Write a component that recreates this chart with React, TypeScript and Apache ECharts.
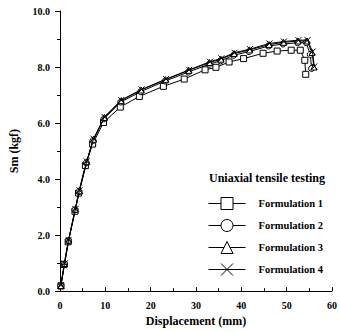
import React, { useEffect, useRef } from "react";
import * as echarts from "echarts";

// Displacement (mm) and Sm (kgf) for each formulation
const dispF1 = [0.2, 0.9, 1.8, 3.3, 4.1, 5.6, 7.2, 9.6, 13.3, 17.5, 22.8, 27.4, 32.0, 34.4, 37.3, 40.5, 44.8, 47.9, 51.0, 53.0, 54.0, 54.2];
const smF1 = [0.18, 0.95, 1.76, 2.85, 3.5, 4.48, 5.25, 6.02, 6.57, 6.95, 7.31, 7.57, 7.9, 7.99, 8.18, 8.3, 8.49, 8.57, 8.6, 8.6, 8.24, 7.74];

const dispF2 = [0.2, 1.0, 1.9, 3.3, 4.2, 5.8, 7.3, 9.7, 13.4, 17.8, 23.2, 28.3, 32.9, 35.4, 38.3, 41.7, 46.0, 49.2, 52.4, 54.3, 55.2, 55.5];
const smF2 = [0.2, 0.97, 1.8, 2.9, 3.55, 4.58, 5.38, 6.15, 6.75, 7.12, 7.5, 7.82, 8.1, 8.22, 8.42, 8.55, 8.75, 8.82, 8.87, 8.87, 8.45, 7.95];

const dispF3 = [0.2, 1.0, 1.9, 3.4, 4.3, 5.9, 7.4, 9.8, 13.5, 17.9, 23.3, 28.4, 33.0, 35.5, 38.4, 41.8, 46.1, 49.3, 52.5, 54.5, 55.6, 56.0];
const smF3 = [0.2, 0.98, 1.82, 2.92, 3.58, 4.62, 5.42, 6.2, 6.8, 7.18, 7.55, 7.88, 8.16, 8.28, 8.48, 8.61, 8.8, 8.88, 8.93, 8.93, 8.52, 8.0];

const dispF4 = [0.2, 1.0, 1.9, 3.4, 4.3, 5.9, 7.4, 9.8, 13.5, 18.0, 23.4, 28.5, 33.1, 35.6, 38.5, 41.9, 46.2, 49.4, 52.6, 54.6, 55.7, 56.1];
const smF4 = [0.21, 0.99, 1.83, 2.93, 3.6, 4.63, 5.44, 6.22, 6.82, 7.2, 7.57, 7.9, 8.19, 8.31, 8.51, 8.64, 8.84, 8.91, 8.96, 8.96, 8.55, 8.02];

const seriesNames = ["Formulation 1", "Formulation 2", "Formulation 3", "Formulation 4"];
const legendTitle = "Uniaxial tensile testing";

const FONT = "'Liberation Serif', 'Times New Roman', serif";
const CROSS = "path://M0,0L10,10M10,0L0,10";

function pairs(xs: number[], ys: number[]) {
  return xs.map((x, i) => [x, ys[i]]);
}

export default function App() {
  const ref = useRef<HTMLDivElement>(null);

  useEffect(() => {
    if (!ref.current) return;
    const chart = echarts.init(ref.current, null, { renderer: "svg" });

    const makeSeries = (name: string, data: number[][], symbol: string, z: number) => ({
      name,
      type: "line",
      data,
      symbol,
      symbolSize: 6,
      showAllSymbol: true,
      z,
      lineStyle: { color: "#000", width: 1 },
      itemStyle: { color: "#fff", borderColor: "#000", borderWidth: 1 },
      emphasis: { disabled: true },
    });

    chart.setOption({
      animation: false,
      backgroundColor: "#fff",
      title: {
        text: legendTitle,
        left: 209,
        top: 172,
        padding: 0,
        textStyle: { fontFamily: FONT, fontWeight: "bold", fontSize: 12, color: "#000" },
      },
      legend: {
        orient: "vertical",
        left: 208,
        top: 197,
        padding: 0,
        itemWidth: 37,
        itemHeight: 15,
        itemGap: 9,
        data: seriesNames,
        itemStyle: { color: "#fff", borderColor: "#000", borderWidth: 1 },
        lineStyle: { color: "#000", width: 1 },
        textStyle: {
          fontFamily: FONT,
          fontWeight: "bold",
          fontSize: 10.5,
          color: "#000",
          padding: [0, 0, 0, 8],
        },
        selectedMode: false,
      },
      grid: { left: 52, right: 6, top: 11, bottom: 37 },
      xAxis: {
        type: "value",
        min: 0,
        max: 60,
        interval: 10,
        name: "Displacement (mm)",
        nameLocation: "middle",
        nameGap: 23,
        nameTextStyle: { fontFamily: FONT, fontWeight: "bold", fontSize: 12, color: "#000" },
        axisLine: { show: true, lineStyle: { color: "#000", width: 1 } },
        axisTick: { show: true, inside: true, length: 4, lineStyle: { color: "#000" } },
        minorTick: { show: true, splitNumber: 2, length: 3, lineStyle: { color: "#000" } },
        axisLabel: { fontFamily: FONT, fontWeight: "bold", fontSize: 10, color: "#000", margin: 9 },
        splitLine: { show: false },
      },
      yAxis: {
        type: "value",
        min: 0,
        max: 10,
        interval: 2,
        name: "Sm (kgf)",
        nameLocation: "middle",
        nameGap: 40,
        nameTextStyle: { fontFamily: FONT, fontWeight: "bold", fontSize: 12, color: "#000" },
        axisLine: { show: true, lineStyle: { color: "#000", width: 1 } },
        axisTick: { show: true, inside: false, length: 5, lineStyle: { color: "#000" } },
        minorTick: { show: true, splitNumber: 2, length: 3, lineStyle: { color: "#000" } },
        axisLabel: {
          fontFamily: FONT,
          fontWeight: "bold",
          fontSize: 10,
          color: "#000",
          margin: 10,
          formatter: (v: number) => v.toFixed(1),
        },
        splitLine: { show: false },
      },
      series: [
        makeSeries(seriesNames[0], pairs(dispF1, smF1), "rect", 2),
        makeSeries(seriesNames[1], pairs(dispF2, smF2), "circle", 3),
        makeSeries(seriesNames[2], pairs(dispF3, smF3), "triangle", 4),
        makeSeries(seriesNames[3], pairs(dispF4, smF4), CROSS, 5),
      ],
    });

    return () => chart.dispose();
  }, []);

  return <div ref={ref} style={{ width: 340, height: 332, position: "absolute", left: 0, top: 0 }} />;
}
